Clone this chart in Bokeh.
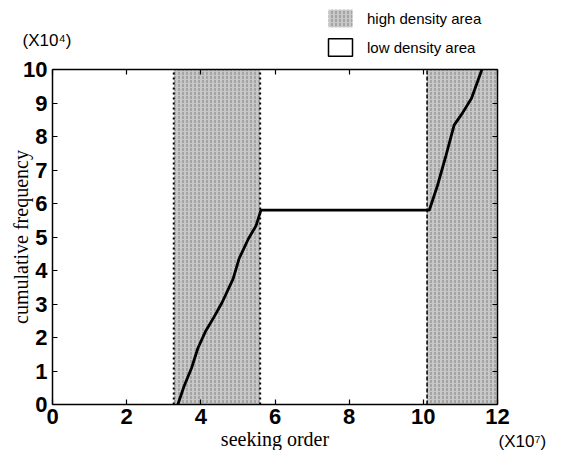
from bokeh.plotting import figure
from bokeh.models import Range1d, LinearAxis, FixedTicker, Label, Legend, LegendItem, ColumnDataSource
from bokeh.embed import file_html
from bokeh.resources import INLINE

# ---- data ----
x_ticks = [0, 2, 4, 6, 8, 10, 12]
y_ticks = [0, 1, 2, 3, 4, 5, 6, 7, 8, 9, 10]

# cumulative frequency curve (x in 1e7, y in 1e4)
curve_x = [3.38, 3.55, 3.75, 3.92, 4.12, 4.35, 4.58, 4.87, 5.03, 5.28, 5.49, 5.62,
           10.16, 10.38, 10.61, 10.83, 11.05, 11.30, 11.58]
curve_y = [0.0, 0.55, 1.09, 1.68, 2.17, 2.6, 3.06, 3.75, 4.35, 4.94, 5.34, 5.8,
           5.8, 6.53, 7.43, 8.34, 8.69, 9.14, 10.0]

# high density areas
hd_left = [3.27, 10.1]
hd_right = [5.6, 12.0]
y_min, y_max = 0, 10
x_min, x_max = 0, 12

# ---- layout (canvas pixels) ----
W, H = 566, 450
BOX_L, BOX_R, BOX_T, BOX_B = 52, 497, 69, 404
sx = (BOX_R - BOX_L) / (x_max - x_min)
sy = (BOX_B - BOX_T) / (y_max - y_min)
xr = Range1d(x_min - BOX_L / sx, x_max + (W - BOX_R) / sx)
yr = Range1d(y_min - (H - BOX_B) / sy, y_max + BOX_T / sy)

p = figure(width=W, height=H, output_backend="svg", toolbar_location=None,
           x_range=xr, y_range=yr, x_axis_location=None, y_axis_location=None,
           min_border=0)
p.xgrid.visible = False
p.ygrid.visible = False
p.outline_line_color = None
p.background_fill_color = "white"

hd_src = ColumnDataSource(dict(left=hd_left, right=hd_right,
                               bottom=[y_min] * len(hd_left), top=[y_max] * len(hd_left)))
hd = p.quad(left="left", right="right", bottom="bottom", top="top", source=hd_src,
            fill_color="#c8c8c8", line_color=None,
            hatch_pattern=":", hatch_color="#8c8c8c", hatch_scale=4, hatch_weight=1.2)

# dotted/dashed boundaries
p.segment(x0=[hd_left[0], hd_right[0]], y0=[y_min, y_min], x1=[hd_left[0], hd_right[0]], y1=[y_max, y_max],
          line_color="black", line_width=2, line_dash="2 3")
p.segment(x0=[hd_left[1]], y0=[y_min], x1=[hd_left[1]], y1=[y_max],
          line_color="black", line_width=1.5, line_dash="4 2")

p.line(curve_x, curve_y, line_color="black", line_width=2.8)

# hidden renderer that only supplies the white legend swatch
ld = p.quad(left="left", right="right", bottom="bottom", top="top", source=hd_src,
            fill_color="white", line_color="black", line_width=1.5, visible=False)

legend = Legend(items=[LegendItem(label="high density area", renderers=[hd]),
                       LegendItem(label="low density area", renderers=[ld])],
                location=(325, H - 58), padding=0, spacing=7, margin=0,
                glyph_width=30, glyph_height=22, label_standoff=12,
                label_text_font="Liberation Sans", label_text_font_size="15px",
                label_text_color="black", inactive_fill_alpha=0,
                border_line_alpha=0, background_fill_alpha=0, click_policy="none")
p.add_layout(legend, "center")

# axes forming the box
def style(ax):
    ax.major_tick_in = 5
    ax.major_tick_out = 0
    ax.minor_tick_in = 0
    ax.minor_tick_out = 0
    ax.axis_line_color = "black"
    ax.axis_line_width = 1.5
    ax.major_tick_line_width = 1.2
    ax.major_label_text_font = "Liberation Sans"
    ax.major_label_text_font_size = "22px"
    ax.major_label_text_font_style = "bold"
    ax.major_label_text_color = "black"

bottom_ax = LinearAxis(ticker=FixedTicker(ticks=x_ticks), fixed_location=y_min, bounds=(x_min, x_max),
                       major_label_standoff=4)
left_ax = LinearAxis(ticker=FixedTicker(ticks=y_ticks), fixed_location=x_min, bounds=(y_min, y_max),
                     major_label_standoff=5)
top_ax = LinearAxis(ticker=FixedTicker(ticks=x_ticks), fixed_location=y_max, bounds=(x_min, x_max),
                    major_label_overrides={t: "" for t in x_ticks})
right_ax = LinearAxis(ticker=FixedTicker(ticks=y_ticks), fixed_location=x_max, bounds=(y_min, y_max),
                      major_label_overrides={t: "" for t in y_ticks})
for ax in (bottom_ax, left_ax, top_ax, right_ax):
    style(ax)
p.add_layout(bottom_ax, "below")
p.add_layout(left_ax, "left")
p.add_layout(top_ax, "above")
p.add_layout(right_ax, "right")

# axis titles
p.add_layout(Label(x=(x_min + x_max) / 2, y=y_min, y_offset=-34, text="seeking order",
                   text_font="Liberation Serif", text_font_size="20px", text_color="black",
                   text_align="center", text_baseline="middle"))
p.add_layout(Label(x=x_min, x_offset=-32, y=(y_min + y_max) / 2, text="cumulative frequency",
                   angle=90, angle_units="deg",
                   text_font="Liberation Serif", text_font_size="20px", text_color="black",
                   text_align="center", text_baseline="middle"))

# multipliers
p.add_layout(Label(x=x_min, x_offset=-30, y=y_max, y_offset=29, text="(X10\u2074)",
                   text_font="Liberation Sans", text_font_size="17px", text_color="black",
                   text_baseline="middle", text_align="left"))
p.add_layout(Label(x=x_max, x_offset=1, y=y_min, y_offset=-37, text="(X10\u2077)",
                   text_font="Liberation Sans", text_font_size="17px", text_color="black",
                   text_baseline="middle", text_align="left"))

open("out.html", "w").write(file_html(p, INLINE))
